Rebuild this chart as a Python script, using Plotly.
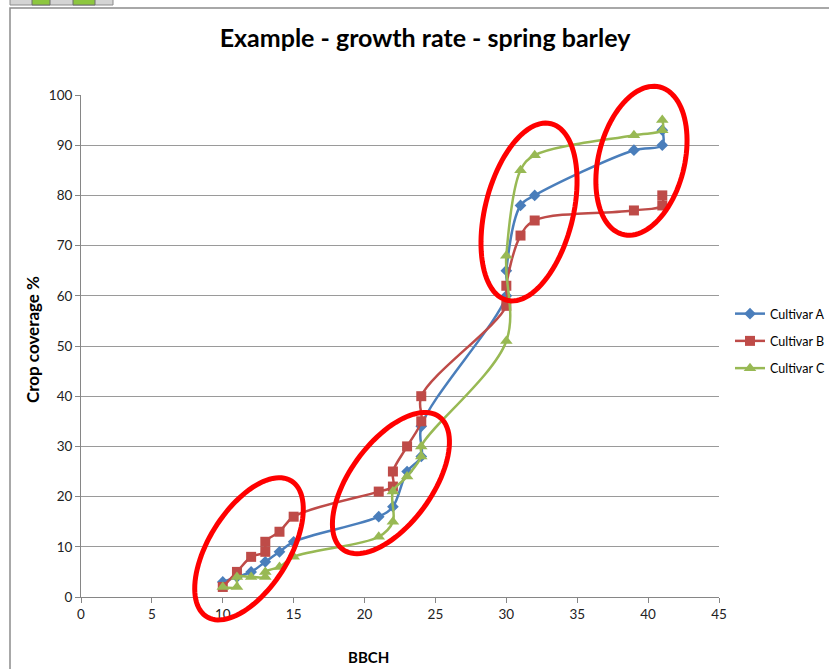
import numpy as np
import plotly.graph_objects as go

# BBCH growth stage vs crop coverage (%) for three spring barley cultivars
a_bbch = [10, 11, 12, 13, 14, 15, 21, 22, 23, 24, 24, 30, 30, 31, 32, 39, 41, 41]
a_cover = [3, 4, 5, 7, 9, 11, 16, 18, 25, 28, 34, 60, 65, 78, 80, 89, 90, 93]

b_bbch = [10, 11, 12, 13, 13, 14, 15, 21, 22, 22, 23, 24, 24, 30, 30, 31, 32, 39, 41, 41]
b_cover = [2, 5, 8, 9, 11, 13, 16, 21, 22, 25, 30, 35, 40, 58, 62, 72, 75, 77, 78, 80]

c_bbch = [10, 11, 11, 12, 13, 13, 14, 15, 21, 22, 22, 23, 24, 24, 30, 30, 31, 32, 39, 41, 41]
c_cover = [2, 2, 4, 4, 4, 5, 6, 8, 12, 15, 21, 24, 28, 30, 51, 68, 85, 88, 92, 93, 95]

series_names = ["Cultivar A", "Cultivar B", "Cultivar C"]
x_ticks = [0, 5, 10, 15, 20, 25, 30, 35, 40, 45]
y_ticks = [0, 10, 20, 30, 40, 50, 60, 70, 80, 90, 100]

W, H = 829, 669
M_L, M_R, M_T, M_B = 81, 110, 95, 72
X_RANGE = (0, 45)
Y_RANGE = (0, 100)
plot_w = W - M_L - M_R
plot_h = H - M_T - M_B
px_per_x = plot_w / (X_RANGE[1] - X_RANGE[0])
px_per_y = plot_h / (Y_RANGE[1] - Y_RANGE[0])

FONT = "Lato"
COLORS = ["#4A7EBB", "#BE4B48", "#98B954"]
SYMBOLS = ["diamond", "square", "triangle-up"]
SIZES = [9, 10, 11]

fig = go.Figure()
for i, (xs, ys) in enumerate([(a_bbch, a_cover), (b_bbch, b_cover), (c_bbch, c_cover)]):
    fig.add_trace(go.Scatter(
        x=xs, y=ys, name=series_names[i], mode="lines+markers",
        legendgroup=series_names[i],
        line=dict(color=COLORS[i], width=2.5, shape="spline", smoothing=1),
        marker=dict(symbol=SYMBOLS[i], size=SIZES[i], color=COLORS[i]),
    ))

def data_to_paper(x, y):
    return ((np.asarray(x) - X_RANGE[0]) / (X_RANGE[1] - X_RANGE[0]),
            (np.asarray(y) - Y_RANGE[0]) / (Y_RANGE[1] - Y_RANGE[0]))

def px_to_paper(px, py):
    return (px - M_L) / plot_w, (H - M_B - py) / plot_h

# Highlight rings: centre in data units, semi-axes in pixels, tilt in degrees.
# Drawn in paper space so they may run past the plot area.
rings = [
    (11.85, 9.6, 80, 40, 58),
    (21.86, 22.7, 82, 41, 54),
    (31.6, 76.7, 91, 44, 76),
    (39.53, 86.9, 76, 43, 76),
]
shapes = []
t = np.linspace(0, 2 * np.pi, 100)
for cx, cy, ra, rb, ang in rings:
    th = np.radians(ang)
    dx = ra * np.cos(t) * np.cos(th) - rb * np.sin(t) * np.sin(th)
    dy = ra * np.cos(t) * np.sin(th) + rb * np.sin(t) * np.cos(th)
    px_, py_ = data_to_paper(cx + dx / px_per_x, cy + dy / px_per_y)
    path = "M " + " L ".join(f"{x:.5f},{y:.5f}" for x, y in zip(px_, py_)) + " Z"
    shapes.append(dict(type="path", path=path, xref="paper", yref="paper",
                       line=dict(color="#FF0000", width=5), layer="above"))

# chart-area frame
x0, y0 = px_to_paper(10, 8)
x1, y1 = px_to_paper(W + 20, H + 20)
shapes.append(dict(type="rect", xref="paper", yref="paper", x0=x0, y0=y1, x1=x1, y1=y0,
                   line=dict(color="#8C8C8C", width=1.5), layer="below"))
# worksheet tab strip at the top edge
tx0, ty0 = px_to_paper(10, -2)
tx1, ty1 = px_to_paper(113, 5)
shapes.append(dict(type="rect", xref="paper", yref="paper", x0=tx0, y0=ty1, x1=tx1, y1=ty0,
                   fillcolor="#D4D4D4", line=dict(color="#8C8C8C", width=1)))
for gx0, gx1 in [(32, 50), (73, 95)]:
    a0, b0 = px_to_paper(gx0, -2)
    a1, b1 = px_to_paper(gx1, 5)
    shapes.append(dict(type="rect", xref="paper", yref="paper", x0=a0, y0=b1, x1=a1, y1=b0,
                       fillcolor="#8DC63F", line=dict(color="#6E6E6E", width=1)))

bx, by = px_to_paper(368, 657)
ax_, ay_ = px_to_paper(32, 340)
annotations = [
    dict(text="<b>BBCH</b>", x=bx, y=by, xref="paper", yref="paper", showarrow=False,
         font=dict(family=FONT, size=15, color="#000000"), xanchor="center", yanchor="middle"),
    dict(text="<b>Crop coverage %</b>", x=ax_, y=ay_, xref="paper", yref="paper", showarrow=False,
         textangle=-90, font=dict(family=FONT, size=17, color="#000000"),
         xanchor="center", yanchor="middle"),
]

lx, ly = px_to_paper(730, 341)
fig.update_layout(
    width=W, height=H,
    margin=dict(l=M_L, r=M_R, t=M_T, b=M_B, autoexpand=False),
    paper_bgcolor="white", plot_bgcolor="white",
    title=dict(text="<b>Example - growth rate - spring barley</b>", x=425 / W, xanchor="center",
               y=1 - 38 / H, yanchor="middle",
               font=dict(family=FONT, size=25, color="#000000")),
    xaxis=dict(range=list(X_RANGE), tickvals=x_ticks, showgrid=False, zeroline=False,
               showline=True, linecolor="#868686", linewidth=1, ticks="outside", ticklen=5,
               tickcolor="#868686", tickfont=dict(family=FONT, size=13.5, color="#222222"),
               fixedrange=True),
    yaxis=dict(range=list(Y_RANGE), tickvals=y_ticks, showgrid=True, gridcolor="#9A9A9A",
               gridwidth=1, zeroline=False, showline=True, linecolor="#868686", linewidth=1,
               ticks="outside", ticklen=5, tickcolor="#868686",
               tickfont=dict(family=FONT, size=13.5, color="#222222"), fixedrange=True),
    legend=dict(x=lx, y=ly, xanchor="left", yanchor="middle", tracegroupgap=8, itemwidth=30,
                font=dict(family=FONT, size=12.5, color="#000000"), bgcolor="rgba(0,0,0,0)"),
    shapes=shapes, annotations=annotations,
)

fig.write_html("out.html")
